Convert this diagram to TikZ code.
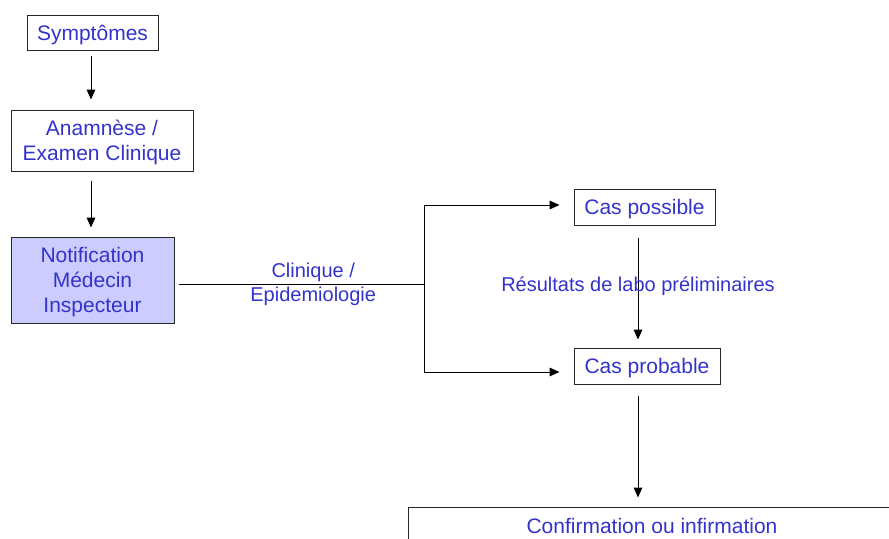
\documentclass[tikz,border=0pt]{standalone}
\usepackage{fontspec}
\setmainfont{Liberation Sans}
\usetikzlibrary{arrows.meta}

\definecolor{txtblue}{RGB}{51,51,204}
\definecolor{notiffill}{RGB}{204,204,255}

\tikzset{
  box/.style={draw=black!85, line width=0.75pt, text=txtblue, align=center,
    font=\fontsize{15.75}{18.75}\selectfont, inner sep=0pt, text depth=0pt},
  lbl/.style={text=txtblue, align=center, font=\fontsize{15}{18}\selectfont, inner sep=0pt},
  arr/.style={-{Triangle[length=7.5pt,width=6.5pt]}, line width=0.75pt},
  conn/.style={line width=0.75pt}
}

\begin{document}
\begin{tikzpicture}[x=0.75pt, y=-0.75pt]
				
				\useasboundingbox (0,0) rectangle (889,539);
				\clip (0,0) rectangle (889,539);
				
				\node[box, minimum width=98.25pt, minimum height=26.25pt] (symp) at (92.5,32.5) {Symptômes};
				\node[box, minimum width=136.5pt, minimum height=45.75pt] (anam) at (102,140.5) {Anamnèse /\\Examen Clinique};
				\node[box, fill=notiffill, minimum width=122.25pt, minimum height=64.5pt] (notif) at (92.5,280) {Notification\\Médecin\\Inspecteur};
				\node[box, minimum width=105.75pt, minimum height=27pt] (poss) at (644.5,207) {Cas possible};
				\node[box, minimum width=109.5pt, minimum height=27pt] (prob) at (647,366) {Cas probable};
				\node[box, minimum width=366pt, minimum height=28.5pt] (conf) at (652,526) {Confirmation ou infirmation};
				
				\coordinate (lcol) at (91,0);
				\coordinate (rcol) at (638,0);
				\coordinate (split) at (424,284);
				
				\draw[arr, shorten <=3.75pt, shorten >=7.5pt] (symp.south -| lcol) -- (anam.north -| lcol);
				\draw[arr, shorten <=6.75pt, shorten >=6.75pt] (anam.south -| lcol) -- (notif.north -| lcol);
				
				\draw[conn, shorten <=3pt] (notif.east |- split) -- (split) node[lbl, pos=0.556] (clin) {Clinique /\\Epidemiologie};
				\draw[arr, shorten >=10.5pt] (split) |- ([yshift=1.5pt]poss.west);
				\draw[arr, shorten >=10.5pt] (split) |- ([yshift=-4.5pt]prob.west);
				
				\draw[arr, shorten <=9pt, shorten >=6pt] (poss.south -| rcol) -- (prob.north -| rcol) node[lbl, midway] (labo) {Résultats de labo préliminaires};
				\draw[arr, shorten <=8.25pt, shorten >=6.75pt] (prob.south -| rcol) -- (conf.north -| rcol);
				
\end{tikzpicture}
\end{document}
